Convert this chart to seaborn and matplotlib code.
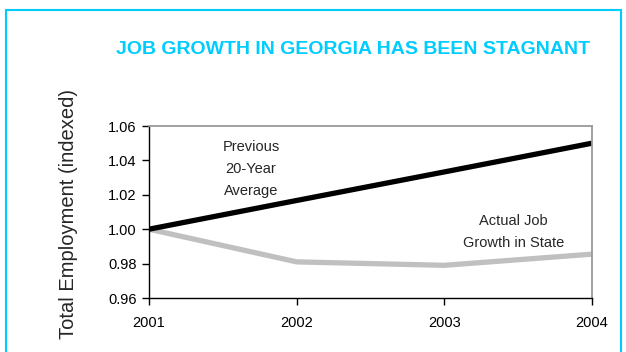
import matplotlib
matplotlib.use("Agg")
import matplotlib.pyplot as plt
import seaborn as sns
import pandas as pd
from matplotlib.patches import Rectangle

years = [2001, 2002, 2003, 2004]
previous_avg = [1.000, 1.0167, 1.0333, 1.050]
actual_growth = [1.000, 0.981, 0.979, 0.9855]
series_names = ["Previous 20-Year Average", "Actual Job Growth in State"]
y_ticks = [0.96, 0.98, 1.00, 1.02, 1.04, 1.06]
title = "JOB GROWTH IN GEORGIA HAS BEEN STAGNANT"
y_label = "Total Employment (indexed)"

df = pd.DataFrame({
    "Year": years * 2,
    "Value": previous_avg + actual_growth,
    "Series": [series_names[0]] * len(years) + [series_names[1]] * len(years),
})

sns.set_style("ticks")
plt.rcParams["font.family"] = ["Liberation Sans", "DejaVu Sans"]

fig = plt.figure(figsize=(6.26, 3.52), dpi=100)
ax = fig.add_axes([149 / 626, 1 - 298 / 352, (592 - 149) / 626, (298 - 126) / 352])

sns.lineplot(data=df, x="Year", y="Value", hue="Series",
             palette={series_names[0]: "#000000", series_names[1]: "#c0c0c0"},
             hue_order=[series_names[1], series_names[0]],
             linewidth=3.8, ax=ax, legend=False, solid_capstyle="butt")

ax.set_xlim(2001, 2004)
ax.set_ylim(0.96, 1.06)
ax.set_xticks(years)
ax.set_xticklabels([str(y) for y in years])
ax.set_yticks(y_ticks)
ax.set_yticklabels([f"{v:.2f}" for v in y_ticks])
ax.tick_params(axis="both", labelsize=10.5, colors="black", length=5, width=1, direction="out")
ax.tick_params(axis="x", pad=8)
ax.tick_params(axis="y", pad=4)
ax.set_xlabel("")
ax.set_ylabel("")

for s in ["left", "bottom"]:
    ax.spines[s].set_color("black")
    ax.spines[s].set_linewidth(1.0)
for s in ["top", "right"]:
    ax.spines[s].set_visible(True)
    ax.spines[s].set_color("#999999")
    ax.spines[s].set_linewidth(1.3)

ax.text(2001.69, 1.035, "Previous\n20-Year\nAverage", ha="center", va="center",
        fontsize=10.5, linespacing=1.72)
ax.text(2003.47, 0.9985, "Actual Job\nGrowth in State", ha="center", va="center",
        fontsize=10.5, linespacing=1.72)

fig.text(353 / 626, 1 - 49 / 352, title, ha="center", va="center",
         fontsize=14, fontweight="bold", color="#00ccff")
fig.text(68 / 626, 1 - 214 / 352, y_label, ha="center", va="center",
         rotation=90, fontsize=14.5)

fig.patches.append(Rectangle((6 / 626, -0.1), (621 - 6) / 626, 1.1 - 10 / 352,
                             transform=fig.transFigure, fill=False,
                             edgecolor="#00ccff", linewidth=1.5))

fig.savefig("out.png", dpi=100)
